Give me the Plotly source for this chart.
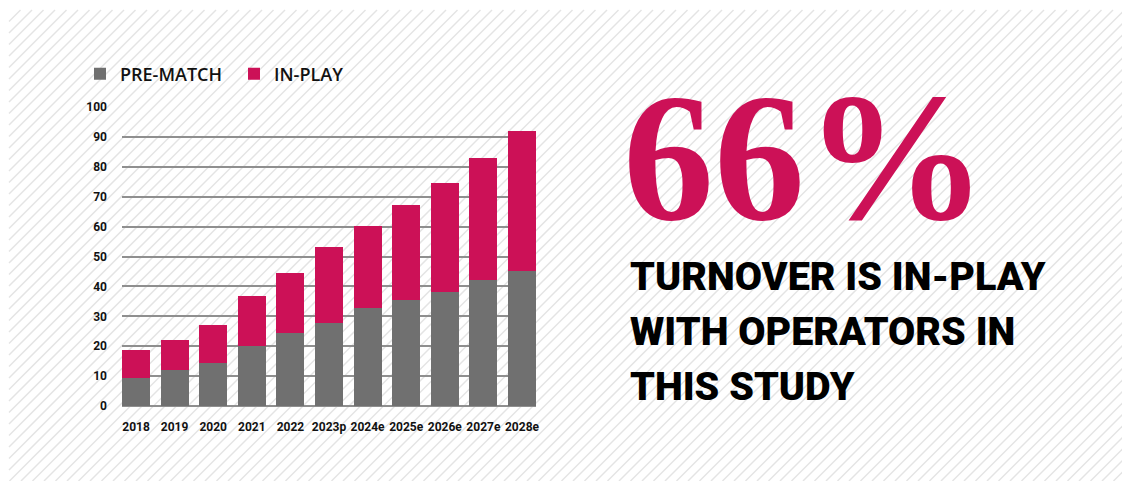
import plotly.graph_objects as go

years = ["2018", "2019", "2020", "2021", "2022", "2023p", "2024e", "2025e", "2026e", "2027e", "2028e"]
pre_match = [9.4, 12.0, 14.4, 20.1, 24.4, 27.8, 32.8, 35.5, 38.1, 42.1, 45.2]
totals = [18.7, 22.1, 27.1, 36.8, 44.5, 53.2, 60.2, 67.2, 74.6, 82.9, 91.9]
in_play = [round(t - p, 1) for t, p in zip(totals, pre_match)]
y_ticks = list(range(0, 101, 10))

GREY = "#707070"
MAGENTA = "#cc1157"

OFF = 8  # page body margin in the browser
W, H = 1130, 481
# plot area in screen pixels
L, R, T, B = 122, 536, 107, 406


def px(x):
    return (x - L) / (R - L)


def py(y):
    return (B - y) / (B - T)


fig = go.Figure()
fig.add_trace(go.Bar(x=years, y=pre_match, name="PRE-MATCH", marker=dict(color=GREY, line=dict(width=0))))
fig.add_trace(go.Bar(x=years, y=in_play, name="IN-PLAY", marker=dict(color=MAGENTA, line=dict(width=0))))

# background hatch (screen pixel region)
shapes = []
X0, X1, Y0, Y1 = 9, W, 10, H
step = 11.5
c = X0 + Y0
while c < X1 + Y1:
    sx = max(X0, c - Y1)
    ex = min(X1, c - Y0)
    if sx < ex:
        shapes.append(dict(type="line", xref="paper", yref="paper",
                           x0=px(sx), y0=py(c - sx), x1=px(ex), y1=py(c - ex),
                           line=dict(color="#e4e4e4", width=1.5), layer="below"))
    c += step

TICKFONT = dict(family="Roboto", size=12, weight="bold", color="#111")

fig.update_layout(
    width=W, height=H,
    margin=dict(l=L - OFF, r=W - (R - OFF), t=T - OFF, b=H - (B - OFF), autoexpand=False),
    paper_bgcolor="white", plot_bgcolor="rgba(0,0,0,0)",
    barmode="stack", bargap=0.275,
    shapes=shapes,
    showlegend=True,
    legend=dict(orientation="h", x=px(80), xanchor="left", y=py(74), yanchor="middle",
                font=dict(family="Open Sans", size=18, color="#111", weight=600),
                entrywidth=109, bgcolor="rgba(0,0,0,0)", traceorder="normal"),
    font=dict(family="Roboto", color="#111"),
)
fig.update_xaxes(range=[-0.363, 10.363], showgrid=False, showline=False, ticks="",
                 tickfont=TICKFONT, tickangle=0, automargin=False, ticklabelstandoff=12)
fig.update_yaxes(range=[0, 100], tickvals=y_ticks, showgrid=True, gridcolor="#8f8f8f", gridwidth=2,
                 zeroline=True, zerolinecolor="#8f8f8f", zerolinewidth=2, showline=False, ticks="",
                 tickfont=TICKFONT, automargin=False, ticklabelstandoff=14)

fig.add_annotation(text="66%", xref="paper", yref="paper", x=px(805), y=py(157), xanchor="center", yanchor="middle",
                   showarrow=False, font=dict(family="Liberation Serif", size=182, color=MAGENTA, weight="bold"))

sub_lines = ["TURNOVER IS IN-PLAY", "WITH OPERATORS IN", "THIS STUDY"]
for i, line in enumerate(sub_lines):
    fig.add_annotation(text=line, xref="paper", yref="paper", x=px(628), y=py(276 + 55 * i),
                       xanchor="left", yanchor="middle", showarrow=False,
                       font=dict(family="Roboto", size=39.5, color="#000", weight=900))

fig.write_html("out.html")
